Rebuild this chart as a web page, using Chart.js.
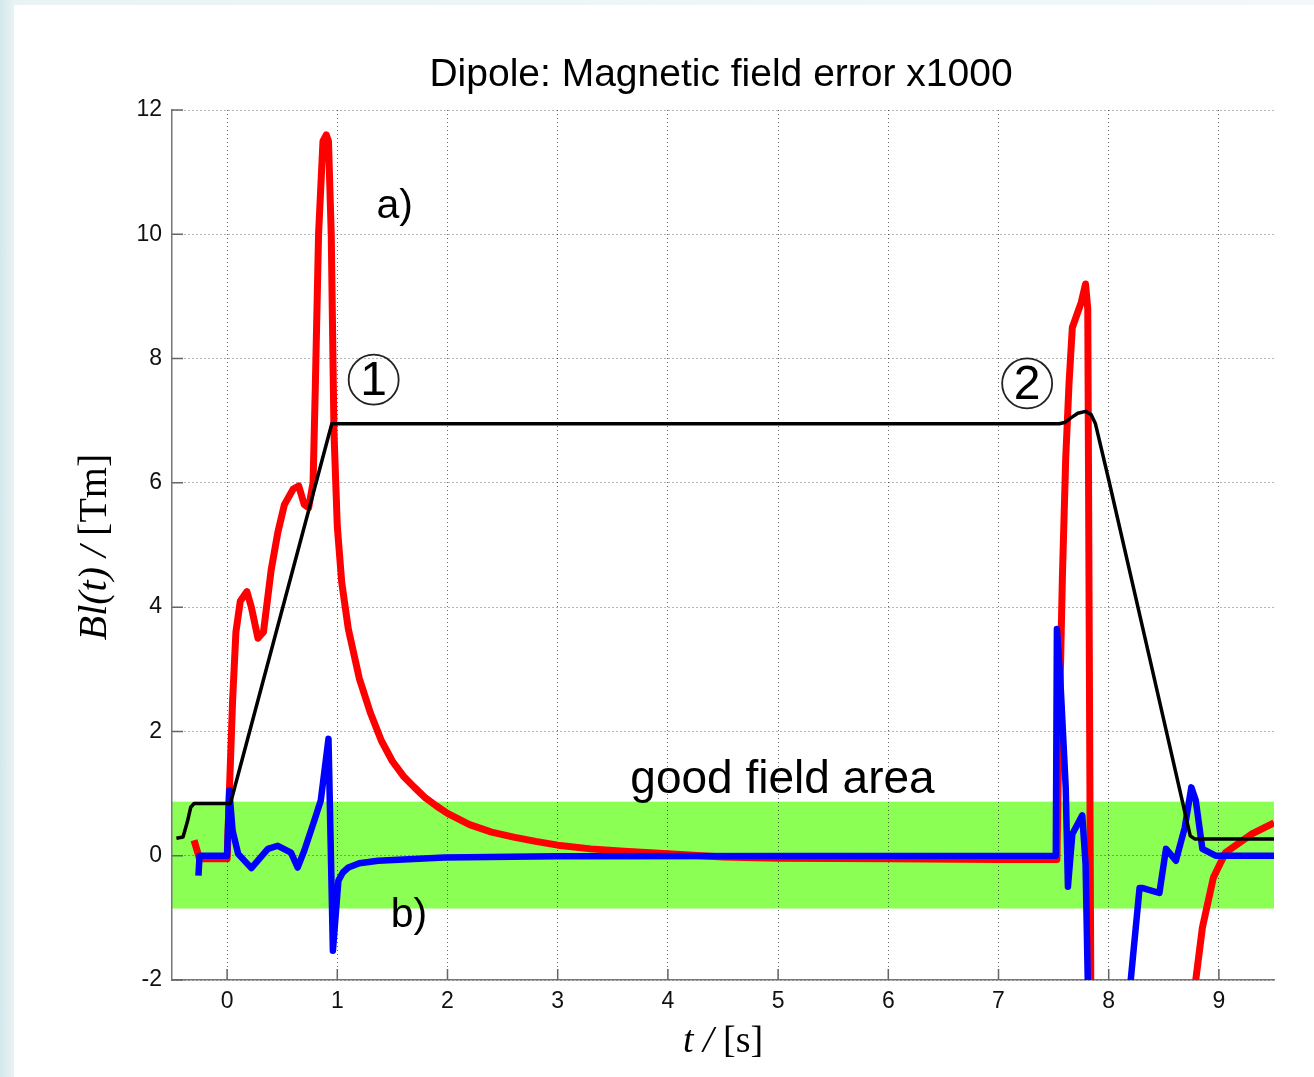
<!DOCTYPE html>
<html>
<head>
<meta charset="utf-8">
<title>Dipole: Magnetic field error x1000</title>
<script src="https://cdn.jsdelivr.net/npm/chart.js@4.4.1/dist/chart.umd.min.js"></script>
<style>
  html, body { margin: 0; padding: 0; }
  body {
    width: 1314px; height: 1077px; overflow: hidden; position: relative;
    background: linear-gradient(to right, #d3e8ec 0px, #e9f3f5 14px, #f2f8f9 100%);
  }
  #panel { position: absolute; left: 14px; top: 5px; right: 0; bottom: 0; background: #fff; }
  #chart { position: absolute; left: 0; top: 0; }
</style>
</head>
<body>
<div id="panel"></div>
<canvas id="chart" width="1314" height="1077"></canvas>
<script>
// tick values
const xTicks = [0, 1, 2, 3, 4, 5, 6, 7, 8, 9];
const yTicks = [-2, 0, 2, 4, 6, 8, 10, 12];

// good field area limits
const bandLow = -0.85;
const bandHigh = 0.87;

// Bl(t) field (black)
const blackT = [-0.46, -0.40, -0.36, -0.33, -0.30, 0.03, 0.95, 7.55, 7.60, 7.66, 7.72, 7.79, 7.84, 7.88, 8.00, 8.37, 8.74, 8.78, 9.50];
const blackB = [0.28, 0.30, 0.55, 0.78, 0.84, 0.84, 6.95, 6.95, 6.97, 7.05, 7.12, 7.15, 7.10, 6.95, 6.05, 3.19, 0.32, 0.27, 0.27];

// error a) (red)
const redT = [-0.30, -0.25, 0.00, 0.02, 0.05, 0.08, 0.12, 0.18, 0.22, 0.28, 0.33, 0.40, 0.46, 0.52, 0.60, 0.65, 0.70, 0.74, 0.78,
              0.80, 0.83, 0.87, 0.90, 0.92, 0.945, 0.97, 1.00, 1.04, 1.10, 1.20, 1.30, 1.40, 1.50, 1.60, 1.70, 1.80,
              1.90, 2.00, 2.20, 2.40, 2.60, 2.80, 3.00, 3.30, 3.60, 4.00, 4.50, 5.00, 6.00, 7.00, 7.53, 7.55, 7.58,
              7.61, 7.64, 7.67, 7.72, 7.75, 7.79, 7.81, 7.84, 8.78, 8.79, 8.85, 8.95, 9.06, 9.30, 9.50];
const redB = [0.25, -0.05, -0.05, 1.0, 2.5, 3.6, 4.1, 4.25, 4.0, 3.5, 3.6, 4.6, 5.2, 5.65, 5.9, 5.95, 5.65, 5.6, 6.0,
              7.5, 10.0, 11.5, 11.6, 11.5, 10.0, 6.8, 5.3, 4.4, 3.65, 2.85, 2.3, 1.85, 1.52, 1.28, 1.1, 0.93,
              0.8, 0.68, 0.5, 0.38, 0.3, 0.23, 0.17, 0.11, 0.07, 0.03, -0.02, -0.04, -0.05, -0.06, -0.06, 2.0, 4.5,
              6.4, 7.6, 8.5, 8.75, 8.9, 9.2, 8.8, -3, -3, -2, -1.16, -0.35, 0.05, 0.35, 0.53];

// error b) (blue)
const blueT = [-0.26, -0.25, 0.00, 0.02, 0.05, 0.10, 0.22, 0.37, 0.46, 0.58, 0.64, 0.70, 0.79, 0.85, 0.92, 0.96, 1.01, 1.05,
               1.10, 1.20, 1.37, 1.97, 3.00, 7.52, 7.53, 7.56, 7.61, 7.63, 7.67, 7.76, 7.79, 7.81, 7.84, 8.19, 8.20,
               8.28, 8.31, 8.46, 8.52, 8.61, 8.69, 8.75, 8.79, 8.85, 8.97, 9.50];
const blueB = [-0.32, 0, 0, 1.05, 0.4, 0.03, -0.2, 0.11, 0.16, 0.05, -0.19, 0.08, 0.56, 0.89, 1.88, -1.53, -0.4, -0.27,
               -0.19, -0.12, -0.08, -0.03, -0.01, 0, 3.65, 2.87, 1.1, -0.5, 0.35, 0.65, -0.13, -2, -3, -3, -2,
               -0.52, -0.52, -0.6, 0.11, -0.08, 0.45, 1.1, 0.89, 0.11, 0, 0];

function points(ts, vs) {
    return ts.map((t, i) => ({ x: t, y: vs[i] }));
}

// draw a line of text made of runs with different fonts, centred on (x, y)
function drawRuns(ctx, runs, x, y, angle) {
    ctx.save();
    ctx.translate(x, y);
    ctx.rotate(angle || 0);
    ctx.textBaseline = 'middle';
    ctx.textAlign = 'left';
    ctx.fillStyle = '#000';
    let total = 0;
    runs.forEach(r => { ctx.font = r.font; total += ctx.measureText(r.text).width; });
    let cx = -total / 2;
    runs.forEach(r => {
        ctx.font = r.font;
        ctx.fillText(r.text, cx, 0);
        cx += ctx.measureText(r.text).width;
    });
    ctx.restore();
}

const bandPlugin = {
    id: 'band',
    beforeDraw(chart) {
        const { ctx, chartArea, scales } = chart;
        const yTop = scales.y.getPixelForValue(bandHigh);
        const yBot = scales.y.getPixelForValue(bandLow);
        ctx.save();
        ctx.fillStyle = 'rgb(140, 255, 85)';
        ctx.fillRect(chartArea.left, yTop, chartArea.right - chartArea.left, yBot - yTop);
        ctx.restore();
    },
    beforeDatasetsDraw(chart) {
        // inward tick marks
        const { ctx, chartArea, scales } = chart;
        ctx.save();
        ctx.strokeStyle = '#666';
        ctx.lineWidth = 1.5;
        ctx.beginPath();
        xTicks.forEach(v => {
            const px = scales.x.getPixelForValue(v);
            ctx.moveTo(px, chartArea.bottom);
            ctx.lineTo(px, chartArea.bottom - 11);
        });
        yTicks.forEach(v => {
            const py = scales.y.getPixelForValue(v);
            ctx.moveTo(chartArea.left, py);
            ctx.lineTo(chartArea.left + 11, py);
        });
        ctx.stroke();
        ctx.restore();
    },
    afterDatasetsDraw(chart) {
        const { ctx, scales } = chart;
        const X = v => scales.x.getPixelForValue(v);
        const Y = v => scales.y.getPixelForValue(v);
        const sans = s => s + 'px "Liberation Sans", Arial, sans-serif';

        ctx.save();
        ctx.fillStyle = '#000';
        ctx.textAlign = 'center';
        ctx.textBaseline = 'middle';
        ctx.font = sans(41);
        ctx.fillText('a)', X(1.52), Y(10.45));
        ctx.fillText('b)', X(1.65), Y(-0.97));
        ctx.font = sans(46);
        ctx.fillText('good field area', X(5.04), Y(1.21));

        // circled markers
        [[1.33, 7.66, '1'], [7.26, 7.60, '2']].forEach(([cx, cy, label]) => {
            ctx.beginPath();
            ctx.strokeStyle = '#222';
            ctx.lineWidth = 1.8;
            ctx.arc(X(cx), Y(cy), 25, 0, Math.PI * 2);
            ctx.stroke();
            ctx.font = sans(48);
            ctx.fillText(label, X(cx), Y(cy) + 2);
        });
        ctx.restore();
    },
    afterDraw(chart) {
        const { ctx } = chart;
        drawRuns(ctx, [{ text: 'Dipole: Magnetic field error x1000', font: '39px "Liberation Sans", Arial, sans-serif' }], 721, 75);
        const it = 'italic 40px "Liberation Serif", "Times New Roman", serif';
        const up = '40px "Liberation Serif", "Times New Roman", serif';
        drawRuns(ctx, [{ text: 'Bl(t)', font: it }, { text: ' / ', font: it }, { text: '[Tm]', font: up }], 95, 547, -Math.PI / 2);
        const itx = 'italic 38px "Liberation Serif", "Times New Roman", serif';
        const upx = '38px "Liberation Serif", "Times New Roman", serif';
        drawRuns(ctx, [{ text: 't', font: itx }, { text: ' / ', font: itx }, { text: '[s]', font: upx }], 723, 1042, 0);
    }
};

const gridStyle = { color: 'rgba(0,0,0,0.6)', lineWidth: 1, drawTicks: false };
const borderStyle = { display: true, color: '#777', width: 1.5, dash: [1, 3] };
const tickFont = { family: '"Liberation Sans", Arial, sans-serif', size: 23 };

new Chart(document.getElementById('chart'), {
    type: 'line',
    data: {
        datasets: [
            { label: 'Bl(t)', data: points(blackT, blackB), borderColor: '#000', borderWidth: 3.5 },
            { label: 'b)', data: points(blueT, blueB), borderColor: '#0000ff', borderWidth: 6.5 },
            { label: 'a)', data: points(redT, redB), borderColor: '#ff0000', borderWidth: 7 }
        ]
    },
    options: {
        responsive: false,
        animation: false,
        devicePixelRatio: 1,
        parsing: false,
        layout: { padding: { top: 110, right: 40, left: 0, bottom: 0 } },
        elements: {
            point: { radius: 0 },
            line: { tension: 0, fill: false, borderJoinStyle: 'round', borderCapStyle: 'butt' }
        },
        plugins: {
            legend: { display: false },
            title: { display: false },
            tooltip: { enabled: false }
        },
        scales: {
            x: {
                type: 'linear',
                min: -0.5,
                max: 9.5,
                afterBuildTicks: s => { s.ticks = xTicks.map(v => ({ value: v })); },
                afterFit: s => { s.height = 97; },
                grid: gridStyle,
                border: borderStyle,
                ticks: { font: tickFont, color: '#111', padding: 8, maxRotation: 0 }
            },
            y: {
                type: 'linear',
                min: -2,
                max: 12,
                afterBuildTicks: s => { s.ticks = yTicks.map(v => ({ value: v })); },
                afterFit: s => { s.width = 172; },
                grid: gridStyle,
                border: borderStyle,
                ticks: { font: tickFont, color: '#111', padding: 10 }
            }
        }
    },
    plugins: [bandPlugin]
});
</script>
</body>
</html>
